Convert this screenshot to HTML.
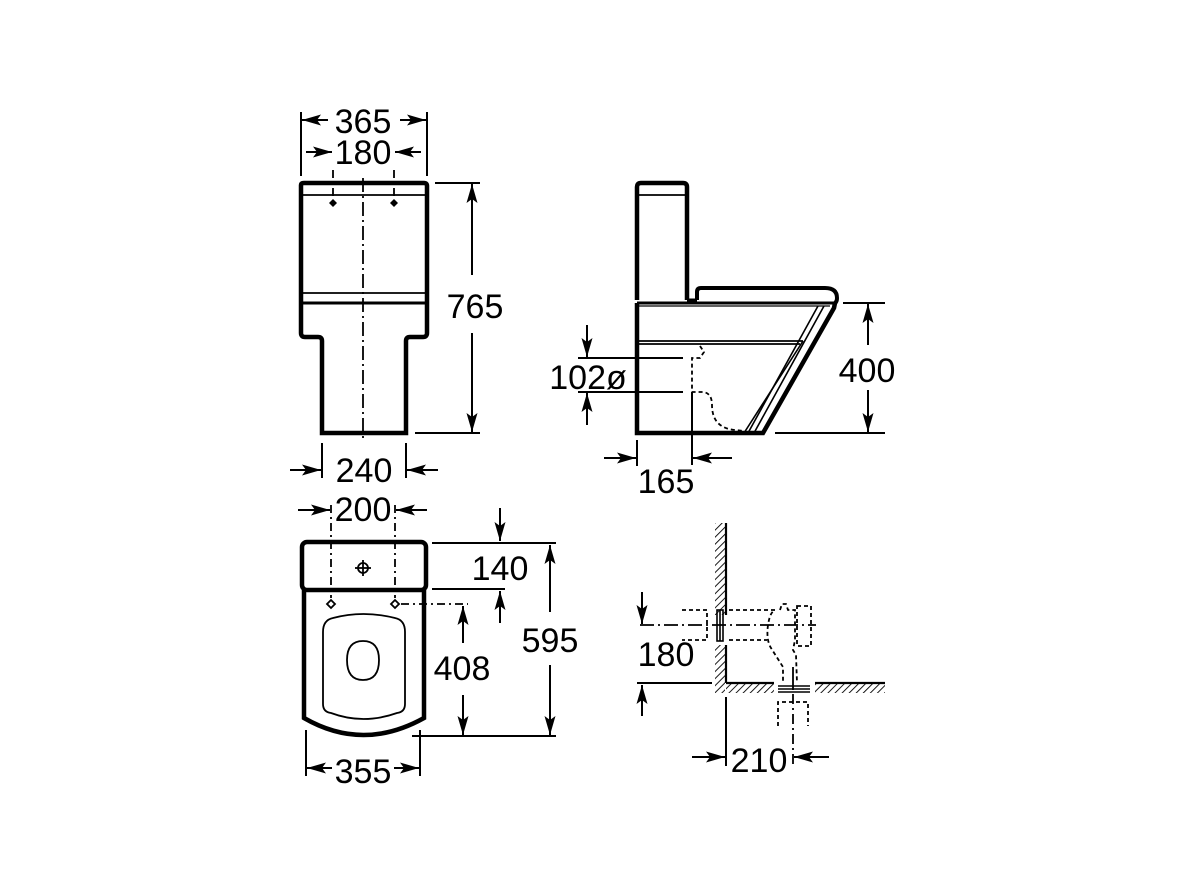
<!DOCTYPE html>
<html><head><meta charset="utf-8"><style>
html,body{margin:0;padding:0;background:#fff;}
svg{display:block;}
text{font-family:"Liberation Sans",Arial,sans-serif;font-size:34px;fill:#000;}
</style></head><body>
<svg width="1187" height="890" viewBox="0 0 1187 890" xmlns="http://www.w3.org/2000/svg">
<defs>
<marker id="a" markerUnits="userSpaceOnUse" markerWidth="20" markerHeight="12" refX="19" refY="5.5" orient="auto"><path d="M0,0 L19,5.5 L0,11 L4,5.5 z" fill="#000"/></marker>
<pattern id="h" width="5" height="5" patternUnits="userSpaceOnUse" patternTransform="rotate(45)"><line x1="0" y1="0" x2="0" y2="5" stroke="#000" stroke-width="1.8"/></pattern>
</defs>
<g fill="none" stroke="#000">
<!-- FRONT VIEW -->
<path d="M301,185 Q301,183 304,183 L424,183 Q427,183 427,186 L427,333 Q427,337 423,337 L410,337 Q406,337 406,341 L406,433 L322,433 L322,341 Q322,337 318,337 L305,337 Q301,337 301,333 Z" stroke-width="4.5"/>
<line x1="301" y1="303" x2="427" y2="303" stroke-width="3"/>
<line x1="301" y1="195" x2="427" y2="195" stroke-width="1.8"/>
<line x1="301" y1="293" x2="427" y2="293" stroke-width="1.8"/>
<line x1="363" y1="178" x2="363" y2="442" stroke-width="1.8" stroke-dasharray="14,4,2,4"/>
<line x1="333" y1="170" x2="333" y2="200" stroke-width="1.8" stroke-dasharray="8,4,2,4"/>
<line x1="394" y1="170" x2="394" y2="200" stroke-width="1.8" stroke-dasharray="8,4,2,4"/>
<line x1="301" y1="112" x2="301" y2="176" stroke-width="2"/>
<line x1="427" y1="112" x2="427" y2="176" stroke-width="2"/>
<line x1="328" y1="120" x2="302" y2="120" stroke-width="2" marker-end="url(#a)"/>
<line x1="400" y1="120" x2="426" y2="120" stroke-width="2" marker-end="url(#a)"/>
<line x1="306" y1="152" x2="332" y2="152" stroke-width="2" marker-end="url(#a)"/>
<line x1="421" y1="152" x2="395" y2="152" stroke-width="2" marker-end="url(#a)"/>
<line x1="435" y1="183" x2="480" y2="183" stroke-width="2"/>
<line x1="415" y1="433" x2="480" y2="433" stroke-width="2"/>
<line x1="472" y1="275" x2="472" y2="184" stroke-width="2" marker-end="url(#a)"/>
<line x1="472" y1="333" x2="472" y2="432" stroke-width="2" marker-end="url(#a)"/>
<line x1="322" y1="443" x2="322" y2="478" stroke-width="2"/>
<line x1="406" y1="443" x2="406" y2="478" stroke-width="2"/>
<line x1="290" y1="470" x2="321" y2="470" stroke-width="2" marker-end="url(#a)"/>
<line x1="438" y1="470" x2="407" y2="470" stroke-width="2" marker-end="url(#a)"/>

<!-- SIDE VIEW -->
<path d="M637,300 L637,187 Q637,183 641,183 L683,183 Q687,183 687,187 L687,300" stroke-width="4.5"/>
<line x1="637" y1="195" x2="687" y2="195" stroke-width="1.8"/>
<path d="M697,300 L697,292 Q697,288 701,288 L825,288 Q837,288 837,298 Q837,303 833,304" stroke-width="4"/>
<line x1="687" y1="300" x2="697" y2="300" stroke-width="3"/>
<line x1="637" y1="303" x2="835" y2="303" stroke-width="3"/>
<line x1="637" y1="306" x2="830" y2="306" stroke-width="1.2"/>
<path d="M637,303 L637,433 L763,433 L834,308 L835,303" stroke-width="4.5"/>
<line x1="818" y1="306" x2="748" y2="433" stroke-width="1.6"/>
<line x1="824" y1="306" x2="754" y2="433" stroke-width="1.6"/>
<line x1="637" y1="341" x2="803" y2="341" stroke-width="1.8"/>
<line x1="637" y1="344" x2="800" y2="344" stroke-width="1.8"/>
<line x1="803" y1="341" x2="744" y2="433" stroke-width="1.6"/>
<path d="M700,346 L704,352 L700,358 L692,358 L692,392 L703,392 Q712,393 712,405 Q712,428 735,430 L744,431" stroke-width="1.8" stroke-dasharray="4,3"/>
<line x1="692" y1="392" x2="692" y2="465" stroke-width="2"/>
<line x1="578" y1="358" x2="683" y2="358" stroke-width="2"/>
<line x1="578" y1="392" x2="683" y2="392" stroke-width="2"/>
<line x1="587" y1="325" x2="587" y2="357" stroke-width="2" marker-end="url(#a)"/>
<line x1="587" y1="425" x2="587" y2="393" stroke-width="2" marker-end="url(#a)"/>
<line x1="637" y1="440" x2="637" y2="466" stroke-width="2"/>
<line x1="604" y1="458" x2="636" y2="458" stroke-width="2" marker-end="url(#a)"/>
<line x1="732" y1="458" x2="693" y2="458" stroke-width="2" marker-end="url(#a)"/>
<line x1="843" y1="303" x2="885" y2="303" stroke-width="2"/>
<line x1="775" y1="433" x2="885" y2="433" stroke-width="2"/>
<line x1="868" y1="345" x2="868" y2="304" stroke-width="2" marker-end="url(#a)"/>
<line x1="868" y1="390" x2="868" y2="432" stroke-width="2" marker-end="url(#a)"/>

<!-- PLAN VIEW -->
<rect x="302" y="542" width="124" height="48" rx="5" stroke-width="4.5"/>
<path d="M304,590 L304,718 Q363,752 424,718 L424,590" stroke-width="4.5"/>
<path d="M323,632 Q323,620 333,618 Q363,610 395,618 Q405,620 405,632 L405,704 Q405,712 397,713 Q363,725 331,713 Q323,712 323,704 Z" stroke-width="1.8"/>
<path d="M347,660 Q347,641 363,641 Q379,641 379,660 Q379,680 363,680 Q347,680 347,660 Z" stroke-width="1.8"/>
<circle cx="363" cy="568" r="5" stroke-width="1.8"/>
<line x1="355" y1="568" x2="371" y2="568" stroke-width="1.8"/>
<line x1="363" y1="560" x2="363" y2="576" stroke-width="1.8"/>
<line x1="331" y1="505" x2="331" y2="598" stroke-width="1.8" stroke-dasharray="8,4,2,4"/>
<line x1="395" y1="505" x2="395" y2="598" stroke-width="1.8" stroke-dasharray="8,4,2,4"/>
<line x1="401" y1="604" x2="468" y2="604" stroke-width="1.8" stroke-dasharray="8,4,2,4"/>
<line x1="298" y1="510" x2="330" y2="510" stroke-width="2" marker-end="url(#a)"/>
<line x1="427" y1="510" x2="396" y2="510" stroke-width="2" marker-end="url(#a)"/>
<line x1="432" y1="543" x2="556" y2="543" stroke-width="2"/>
<line x1="432" y1="589" x2="505" y2="589" stroke-width="2"/>
<line x1="500" y1="508" x2="500" y2="541" stroke-width="2" marker-end="url(#a)"/>
<line x1="500" y1="623" x2="500" y2="591" stroke-width="2" marker-end="url(#a)"/>
<line x1="463" y1="643" x2="463" y2="606" stroke-width="2" marker-end="url(#a)"/>
<line x1="463" y1="695" x2="463" y2="735" stroke-width="2" marker-end="url(#a)"/>
<line x1="550" y1="612" x2="550" y2="545" stroke-width="2" marker-end="url(#a)"/>
<line x1="550" y1="665" x2="550" y2="735" stroke-width="2" marker-end="url(#a)"/>
<line x1="412" y1="736" x2="556" y2="736" stroke-width="2"/>
<line x1="306" y1="730" x2="306" y2="776" stroke-width="2"/>
<line x1="420" y1="730" x2="420" y2="776" stroke-width="2"/>
<line x1="332" y1="768" x2="307" y2="768" stroke-width="2" marker-end="url(#a)"/>
<line x1="394" y1="768" x2="419" y2="768" stroke-width="2" marker-end="url(#a)"/>

<!-- INSTALLATION -->
<rect x="715" y="523" width="10" height="92" fill="url(#h)" stroke="none"/>
<rect x="715" y="645" width="10" height="48" fill="url(#h)" stroke="none"/>
<rect x="726" y="683" width="48" height="10" fill="url(#h)" stroke="none"/>
<rect x="815" y="683" width="70" height="10" fill="url(#h)" stroke="none"/>
<line x1="726" y1="523" x2="726" y2="615" stroke-width="2.2"/>
<line x1="726" y1="645" x2="726" y2="683" stroke-width="2.2"/>
<line x1="726" y1="683" x2="774" y2="683" stroke-width="2.2"/>
<line x1="815" y1="683" x2="885" y2="683" stroke-width="2.2"/>
<line x1="640" y1="625" x2="816" y2="625" stroke-width="1.8" stroke-dasharray="14,4,2,4"/>
<path d="M682,610 L707,610 L707,640 L682,640" stroke-width="1.8" stroke-dasharray="4,3"/>
<rect x="717" y="610" width="6" height="31" stroke-width="1.6"/>
<line x1="720" y1="610" x2="720" y2="641" stroke-width="1.6"/>
<path d="M729,610 L775,610 Q770,612 768,625 Q766,640 771,648 L783,667 L783,683" stroke-width="1.8" stroke-dasharray="4,3"/>
<path d="M729,640 L767,640" stroke-width="1.8" stroke-dasharray="4,3"/>
<path d="M780,610 L782,604 L786,604 L788,610 L795,610 L795,640 L793,650 L796,655 L797,683" stroke-width="1.8" stroke-dasharray="4,3"/>
<rect x="797" y="606" width="14" height="40" stroke-width="1.8" stroke-dasharray="4,3"/>
<line x1="793" y1="667" x2="793" y2="690" stroke-width="1.8"/>
<line x1="778" y1="686" x2="810" y2="686" stroke-width="1.6"/>
<line x1="778" y1="689" x2="810" y2="689" stroke-width="1.6"/>
<line x1="778" y1="692" x2="810" y2="692" stroke-width="1.6"/>
<path d="M778,726 L778,702 L808,702 L808,726" stroke-width="1.8" stroke-dasharray="4,3"/>
<line x1="793" y1="694" x2="793" y2="765" stroke-width="1.8" stroke-dasharray="10,4,2,4"/>
<line x1="637" y1="683" x2="712" y2="683" stroke-width="2"/>
<line x1="642" y1="592" x2="642" y2="624" stroke-width="2" marker-end="url(#a)"/>
<line x1="642" y1="716" x2="642" y2="685" stroke-width="2" marker-end="url(#a)"/>
<line x1="726" y1="697" x2="726" y2="766" stroke-width="2"/>
<line x1="692" y1="757" x2="725" y2="757" stroke-width="2" marker-end="url(#a)"/>
<line x1="829" y1="757" x2="794" y2="757" stroke-width="2" marker-end="url(#a)"/>
</g>
<g fill="#000">
<path d="M333,199 L337,203 L333,207 L329,203 Z"/>
<path d="M394,199 L398,203 L394,207 L390,203 Z"/>
</g>
<g fill="none" stroke="#000" stroke-width="1.8">
<path d="M331,600 L335,604 L331,608 L327,604 Z"/>
<path d="M395,600 L399,604 L395,608 L391,604 Z"/>
</g>
<text x="363" y="133" text-anchor="middle">365</text>
<text x="363" y="164" text-anchor="middle">180</text>
<text x="475" y="318" text-anchor="middle">765</text>
<text x="364" y="482" text-anchor="middle">240</text>
<text x="588" y="389" text-anchor="middle">102ø</text>
<text x="666" y="493" text-anchor="middle">165</text>
<text x="867" y="382" text-anchor="middle">400</text>
<text x="363" y="521" text-anchor="middle">200</text>
<text x="500" y="580" text-anchor="middle">140</text>
<text x="462" y="680" text-anchor="middle">408</text>
<text x="550" y="652" text-anchor="middle">595</text>
<text x="363" y="783" text-anchor="middle">355</text>
<text x="666" y="666" text-anchor="middle">180</text>
<text x="759" y="772" text-anchor="middle">210</text>
</svg>
</body></html>
